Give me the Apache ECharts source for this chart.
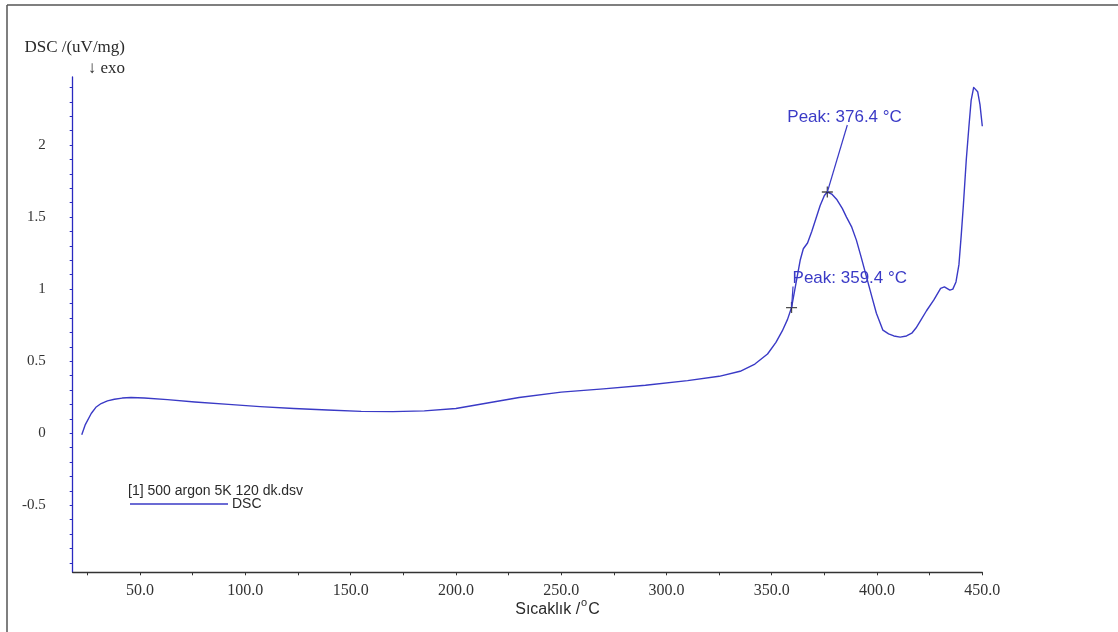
<!DOCTYPE html>
<html>
<head>
<meta charset="utf-8">
<script src="https://cdn.jsdelivr.net/npm/echarts@6/dist/echarts.min.js"></script>
<style>
  html, body { margin: 0; padding: 0; background: #ffffff; }
  #chart { width: 1118px; height: 632px; }
</style>
</head>
<body>
<div id="chart"></div>
<script>
// DSC trace: temperature (°C) and heat flow (uV/mg)
const temperature = [
  22.3, 24, 26.8, 29, 31.5, 34.5, 37.8, 41.5, 45.7, 52, 63, 76, 92, 107, 123, 139, 155, 170, 185,
  200, 215, 230, 250, 270, 290, 310, 325, 335, 342, 348, 352, 355, 357.5, 359.4, 361.5, 363.5,
  365, 367, 369, 371, 373, 375, 376.4, 378.5, 381, 383.5, 385.5, 388, 390.2, 392.5, 395, 397.5,
  399.7, 402.8, 405.5, 408, 411, 414, 416.5, 418.5, 420.6, 423.5, 427, 430.2, 432, 434.6, 436,
  437.5, 438.9, 440, 441, 442.4, 443.6, 444.7, 445.9, 446.8, 447.8, 448.9, 450
];
const dsc = [
  -0.01, 0.06, 0.137, 0.18, 0.206, 0.225, 0.236, 0.244, 0.248, 0.245, 0.233, 0.217, 0.200, 0.185,
  0.172, 0.161, 0.152, 0.150, 0.155, 0.172, 0.210, 0.248, 0.285, 0.308, 0.333, 0.365, 0.395, 0.43,
  0.48, 0.55, 0.63, 0.71, 0.79, 0.872, 1.04, 1.20, 1.28, 1.32, 1.40, 1.49, 1.58, 1.65, 1.674,
  1.66, 1.62, 1.56, 1.50, 1.43, 1.34, 1.22, 1.085, 0.95, 0.833, 0.715, 0.69, 0.675, 0.667, 0.675,
  0.694, 0.73, 0.78, 0.85, 0.925, 1.005, 1.015, 0.993, 1.0, 1.05, 1.17, 1.375, 1.58, 1.90, 2.12,
  2.31, 2.40, 2.413, 2.37, 2.28, 2.13
];

// Evaluated peaks (°C)
const peakTemps = [359.4, 376.4];

// Axis ticks and labels
const xLabelValues = [50, 100, 150, 200, 250, 300, 350, 400, 450];
const xTickValues = [25, 50, 75, 100, 125, 150, 175, 200, 225, 250, 275, 300, 325, 350, 375, 400, 425, 450];
const yLabelValues = [-0.5, 0, 0.5, 1, 1.5, 2];
const yTickValues = [-0.9, -0.8, -0.7, -0.6, -0.5, -0.4, -0.3, -0.2, -0.1, 0, 0.1, 0.2, 0.3, 0.4,
  0.5, 0.6, 0.7, 0.8, 0.9, 1, 1.1, 1.2, 1.3, 1.4, 1.5, 1.6, 1.7, 1.8, 1.9, 2, 2.1, 2.2, 2.3, 2.4];

const fileName = '[1] 500 argon 5K 120 dk.dsv';
const seriesName = 'DSC';

const CURVE = '#3a3ac6';
const AXIS_BLUE = '#2a2ac0';
const TEXT = '#2a2a2a';
const SANS = '"Liberation Sans", Arial, sans-serif';
const SERIF = '"Liberation Serif", "Times New Roman", serif';

const linePoints = temperature.map((t, i) => [t, dsc[i]]);
const peakPoints = peakTemps.map(t => [t, dsc[temperature.indexOf(t)]]);

const chart = echarts.init(document.getElementById('chart'), null, { renderer: 'canvas' });

const option = {
  backgroundColor: '#ffffff',
  animation: false,
  grid: { left: 72.7, right: 135.7, top: 77, bottom: 59.7, containLabel: false },
  xAxis: {
    type: 'value',
    min: 18, max: 450,
    name: '{t|Sıcaklık /}{s|o}{t|C}',
    nameLocation: 'middle',
    nameGap: 25,
    nameMoveOverlap: false,
    nameTextStyle: {
      padding: [0, 0, 0, 60],
      rich: {
        t: { fontFamily: SANS, fontSize: 16, color: TEXT, verticalAlign: 'bottom', lineHeight: 20 },
        s: { fontFamily: SANS, fontSize: 11, color: TEXT, verticalAlign: 'top', lineHeight: 20, padding: [0, 1, 0, 1] }
      }
    },
    axisLine: { show: true, onZero: false, lineStyle: { color: '#333333', width: 1.3 } },
    axisTick: { show: true, inside: false, length: 3, customValues: xTickValues, lineStyle: { color: '#333333', width: 1 } },
    axisLabel: {
      customValues: xLabelValues,
      formatter: v => v.toFixed(1),
      fontFamily: SERIF, fontSize: 16, color: '#333333', margin: 10
    },
    splitLine: { show: false }
  },
  yAxis: {
    type: 'value',
    min: -0.965, max: 2.472,
    axisLine: { show: true, onZero: false, lineStyle: { color: AXIS_BLUE, width: 1.3 } },
    axisTick: { show: true, inside: false, length: 3, customValues: yTickValues, lineStyle: { color: AXIS_BLUE, width: 1 } },
    axisLabel: {
      customValues: yLabelValues,
      formatter: v => String(v),
      fontFamily: SERIF, fontSize: 15, color: '#333333', margin: 27
    },
    splitLine: { show: false }
  },
  series: [
    {
      name: seriesName,
      type: 'line',
      data: linePoints,
      symbol: 'none',
      smooth: false,
      lineStyle: { color: CURVE, width: 1.4, join: 'round' },
      itemStyle: { color: CURVE },
      z: 3
    },
    {
      name: 'peaks',
      type: 'scatter',
      data: peakPoints,
      symbol: 'path://M0,5 L10,5 M5,0 L5,10',
      symbolSize: 11,
      itemStyle: { color: 'transparent', borderColor: '#222222', borderWidth: 1.3 },
      z: 5,
      silent: true
    }
  ]
};

chart.setOption(option);

// Leader lines and peak labels, placed relative to each peak marker
const labelOffsets = [
  { text: [1, -29.5], lead: [1.5, -21] },
  { text: [-40, -75], lead: [20, -67] }
];
const g = [
  // outer frame (top and left edges)
  { type: 'line', shape: { x1: 7, y1: 5, x2: 1118, y2: 5 }, style: { stroke: '#555555', lineWidth: 1.5 } },
  { type: 'line', shape: { x1: 7, y1: 5, x2: 7, y2: 632 }, style: { stroke: '#555555', lineWidth: 1.5 } },
  // y axis title
  { type: 'text', right: 1118 - 125, top: 39, style: { text: 'DSC /(uV/mg)', font: '17px ' + SERIF, fill: TEXT } },
  { type: 'text', right: 1118 - 125, top: 60, style: { text: '↓ exo', font: '17px ' + SERIF, fill: TEXT } },
  // legend: file name, line sample and series name
  { type: 'text', left: 128, top: 484, style: { text: fileName, font: '14px ' + SANS, fill: TEXT } },
  { type: 'line', shape: { x1: 130, y1: 504, x2: 228, y2: 504 }, style: { stroke: CURVE, lineWidth: 1.4 } },
  { type: 'text', left: 232, top: 497, style: { text: seriesName, font: '14px ' + SANS, fill: TEXT } }
];
peakPoints.forEach((pt, i) => {
  const p = chart.convertToPixel({ seriesIndex: 0 }, pt);
  const o = labelOffsets[i];
  g.push({
    type: 'line', z: 10,
    shape: { x1: p[0], y1: p[1], x2: p[0] + o.lead[0], y2: p[1] + o.lead[1] },
    style: { stroke: CURVE, lineWidth: 1.2 }
  });
  g.push({
    type: 'text', z: 10,
    x: p[0] + o.text[0], y: p[1] + o.text[1],
    style: {
      text: 'Peak: ' + pt[0].toFixed(1) + ' °C',
      font: '17px ' + SANS, fill: CURVE,
      textAlign: 'left', textVerticalAlign: 'middle'
    }
  });
});
chart.setOption({ graphic: g });
</script>
</body>
</html>
